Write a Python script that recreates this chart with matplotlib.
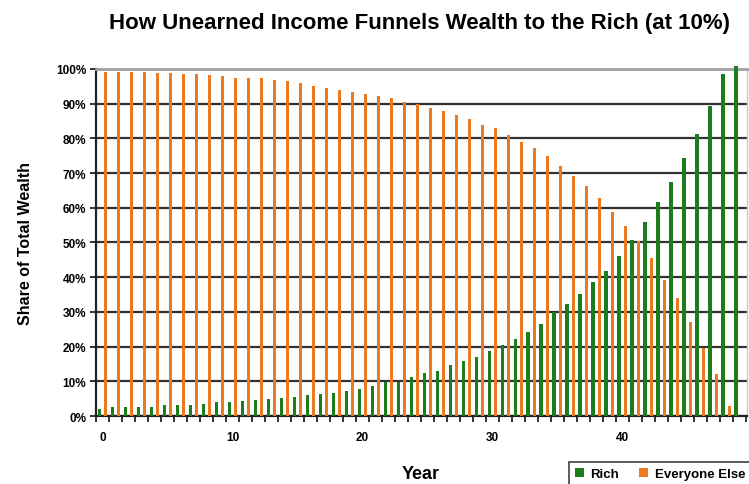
import matplotlib.pyplot as plt
import numpy as np

years = list(range(50))

# share of total wealth held by the rich, percent
rich = [2.0, 2.5, 2.6, 2.6, 2.7, 3.2, 3.3, 3.3, 3.4, 3.9,
        3.9, 4.4, 4.5, 5.0, 5.1, 5.6, 6.1, 6.4, 6.5, 7.1,
        7.8, 8.7, 9.7, 9.8, 11.1, 12.3, 13.0, 14.6, 15.8, 17.0,
        18.8, 20.4, 22.2, 24.3, 26.5, 29.9, 32.3, 35.2, 38.7, 41.9,
        46.0, 50.7, 56.0, 61.8, 67.5, 74.4, 81.3, 89.3, 98.5, 101.0]

# share held by everyone else, percent
everyone_else = [99.0, 99.0, 99.0, 99.0, 98.7, 98.7, 98.6, 98.6, 98.2, 98.0,
                 97.5, 97.4, 97.4, 96.9, 96.4, 96.0, 95.1, 94.4, 93.9, 93.4,
                 92.9, 92.3, 91.7, 90.6, 90.0, 88.9, 87.9, 86.7, 85.6, 83.9,
                 82.9, 81.0, 79.0, 77.2, 74.8, 72.1, 69.2, 66.2, 62.7, 58.7,
                 54.7, 50.5, 45.5, 39.3, 33.9, 27.2, 19.6, 12.1, 3.0, 0.0]

green = "#1b7d1b"
orange = "#ec7a22"
bold_font = ["Liberation Sans", "DejaVu Sans"]

fig = plt.figure(figsize=(7.49, 4.85), dpi=100)
ax = fig.add_axes([0.1282, 0.1402, 0.869, 0.7155])

x = np.array(years)
ax.bar(x - 0.23, rich, width=0.27, color=green, zorder=3, clip_on=False, label="Rich")
ax.bar(x + 0.23, everyone_else, width=0.24, color=orange, zorder=3, label="Everyone Else")

ax.set_xlim(-0.5, 49.6)
ax.set_ylim(0, 100)

ax.set_yticks(range(0, 101, 10))
ax.set_yticklabels([f"{v}%" for v in range(0, 101, 10)],
                   fontsize=8.5, fontweight="bold", family=bold_font)
ax.yaxis.grid(True, color="#333333", linewidth=1.6, zorder=1)
ax.set_axisbelow(True)

# category labels every ten years, tick marks between categories
ax.set_xticks(range(0, 50, 10))
ax.set_xticklabels([str(v) for v in range(0, 50, 10)],
                   fontsize=8.5, fontweight="bold", family=bold_font)
ax.tick_params(axis="x", which="major", length=0, pad=11)
ax.set_xticks(np.arange(-0.5, 50, 1), minor=True)
ax.tick_params(axis="x", which="minor", length=4, width=1.3, color="#222222")
ax.tick_params(axis="y", length=4, width=1.3, color="#222222", pad=3)

for side in ("left", "bottom"):
    ax.spines[side].set_color("#222222")
    ax.spines[side].set_linewidth(1.6)
ax.spines["top"].set_color("#a0a0a0")
ax.spines["top"].set_linewidth(2)
ax.spines["right"].set_color("#c8c8c8")
ax.spines["right"].set_linewidth(1)

fig.text(0.56, 0.952, "How Unearned Income Funnels Wealth to the Rich (at 10%)",
         ha="center", va="center", fontsize=16, fontweight="bold",
         family=bold_font)
fig.text(0.034, 0.497, "Share of Total Wealth", rotation=90, ha="center", va="center",
         fontsize=11.5, fontweight="bold", family=bold_font)
fig.text(0.561, 0.022, "Year", ha="center", va="center",
         fontsize=13, fontweight="bold", family=bold_font)

leg = fig.legend(loc="lower right", bbox_to_anchor=(1.003, -0.004), ncol=2,
                 frameon=True, fancybox=False, edgecolor="#111111",
                 handlelength=0.7, handleheight=0.7, handletextpad=0.5,
                 columnspacing=1.5, borderpad=0.45, borderaxespad=0.0,
                 prop={"family": bold_font, "weight": "bold", "size": 9.5})
leg.get_frame().set_linewidth(1.2)

fig.savefig("out.png", dpi=100)
